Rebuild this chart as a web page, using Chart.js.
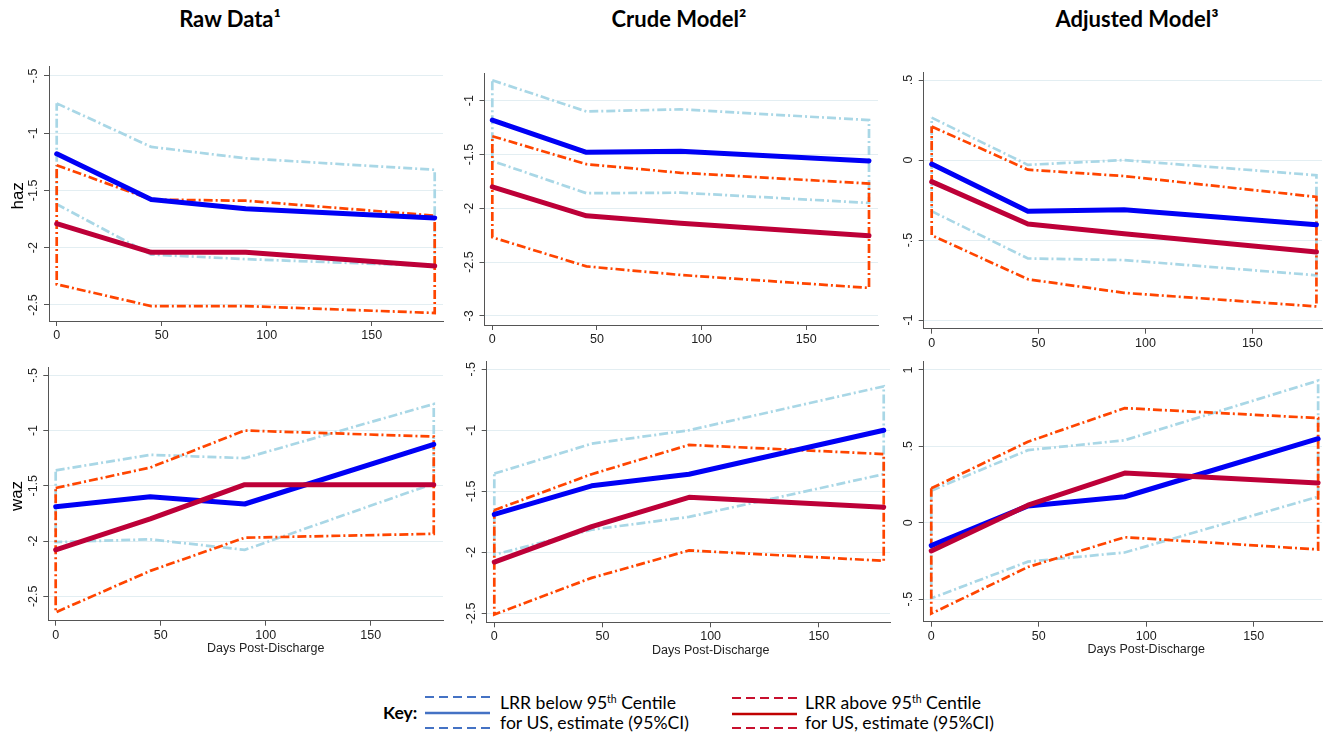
<!DOCTYPE html>
<html>
<head>
<meta charset="utf-8">
<script src="https://cdn.jsdelivr.net/npm/chart.js@4.4.1/dist/chart.umd.min.js"></script>
<style>
  body { margin: 0; background: #fff; }
  #page { position: relative; width: 1331px; height: 738px; overflow: hidden; font-family: Lato, "Open Sans", sans-serif; color: #000; }
  canvas { position: absolute; }
  .title { position: absolute; top: 5px; font-weight: 700; font-size: 22px; transform: translateX(-50%); white-space: nowrap; }
  .key { position: absolute; font-size: 17.6px; white-space: nowrap; line-height: 20px; }
  .key sup { font-size: 10.5px; vertical-align: 6px; line-height: 0; }
  svg { position: absolute; }
</style>
</head>
<body>
<div id="page">
  <div class="title" style="left:230px">Raw Data¹</div>
  <div class="title" style="left:679px">Crude Model²</div>
  <div class="title" style="left:1137px">Adjusted Model³</div>

  <div class="key" style="left:383px;top:703px;font-weight:700">Key:</div>
  <svg style="left:424px;top:690px" width="70" height="45">
    <line x1="1" y1="7" x2="66" y2="7" stroke="#4472c4" stroke-width="1.8" stroke-dasharray="9 5"/>
    <line x1="1" y1="23" x2="66" y2="23" stroke="#4472c4" stroke-width="2.6"/>
    <line x1="1" y1="38" x2="66" y2="38" stroke="#4472c4" stroke-width="1.8" stroke-dasharray="9 5"/>
  </svg>
  <div class="key" style="left:500px;top:693px">LRR below 95<sup>th</sup> Centile</div>
  <div class="key" style="left:500px;top:713px">for US, estimate (95%CI)</div>
  <svg style="left:731px;top:690px" width="70" height="45">
    <line x1="1" y1="8" x2="66" y2="8" stroke="#c8102e" stroke-width="1.8" stroke-dasharray="9 5"/>
    <line x1="1" y1="24" x2="66" y2="24" stroke="#c00000" stroke-width="2.6"/>
    <line x1="1" y1="38" x2="66" y2="38" stroke="#c8102e" stroke-width="1.8" stroke-dasharray="9 5"/>
  </svg>
  <div class="key" style="left:805px;top:693px">LRR above 95<sup>th</sup> Centile</div>
  <div class="key" style="left:805px;top:713px">for US, estimate (95%CI)</div>
</div>

<script>
// days post-discharge at which each estimate was taken
const days = [0, 45, 90, 180];
const xTicks = [0, 50, 100, 150];

// haz - raw data
const hazRawBelow   = [-1.18, -1.58, -1.66, -1.74];
const hazRawBelowLo = [-1.62, -2.06, -2.10, -2.16];
const hazRawBelowHi = [-0.74, -1.12, -1.22, -1.32];
const hazRawAbove   = [-1.79, -2.04, -2.04, -2.16];
const hazRawAboveLo = [-2.32, -2.51, -2.51, -2.57];
const hazRawAboveHi = [-1.28, -1.58, -1.59, -1.72];

// haz - crude model
const hazCrudeBelow   = [-1.18, -1.48, -1.47, -1.56];
const hazCrudeBelowLo = [-1.56, -1.86, -1.855, -1.95];
const hazCrudeBelowHi = [-0.81, -1.10, -1.08, -1.18];
const hazCrudeAbove   = [-1.80, -2.07, -2.14, -2.255];
const hazCrudeAboveLo = [-2.27, -2.54, -2.62, -2.74];
const hazCrudeAboveHi = [-1.33, -1.59, -1.67, -1.77];

// haz - adjusted model
const hazAdjBelow   = [-0.025, -0.32, -0.31, -0.405];
const hazAdjBelowLo = [-0.32, -0.615, -0.625, -0.72];
const hazAdjBelowHi = [0.265, -0.03, 0.0, -0.095];
const hazAdjAbove   = [-0.135, -0.40, -0.46, -0.575];
const hazAdjAboveLo = [-0.47, -0.745, -0.83, -0.915];
const hazAdjAboveHi = [0.21, -0.06, -0.10, -0.23];

// waz - raw data
const wazRawBelow   = [-1.69, -1.60, -1.665, -1.125];
const wazRawBelowLo = [-2.01, -1.985, -2.08, -1.48];
const wazRawBelowHi = [-1.36, -1.22, -1.25, -0.76];
const wazRawAbove   = [-2.08, -1.80, -1.49, -1.49];
const wazRawAboveLo = [-2.645, -2.27, -1.97, -1.935];
const wazRawAboveHi = [-1.52, -1.335, -1.0, -1.055];

// waz - crude model
const wazCrudeBelow   = [-1.69, -1.455, -1.36, -1.0];
const wazCrudeBelowLo = [-2.02, -1.815, -1.71, -1.36];
const wazCrudeBelowHi = [-1.355, -1.11, -1.0, -0.64];
const wazCrudeAbove   = [-2.08, -1.79, -1.55, -1.63];
const wazCrudeAboveLo = [-2.51, -2.21, -1.985, -2.07];
const wazCrudeAboveHi = [-1.655, -1.36, -1.12, -1.195];

// waz - adjusted model
const wazAdjBelow   = [-0.15, 0.11, 0.17, 0.55];
const wazAdjBelowLo = [-0.495, -0.255, -0.195, 0.17];
const wazAdjBelowHi = [0.21, 0.475, 0.54, 0.93];
const wazAdjAbove   = [-0.185, 0.115, 0.325, 0.26];
const wazAdjAboveLo = [-0.595, -0.29, -0.095, -0.175];
const wazAdjAboveHi = [0.225, 0.53, 0.75, 0.685];

// y tick labels per panel
const hazRawTicks   = [-0.5, -1, -1.5, -2, -2.5];
const hazCrudeTicks = [-1, -1.5, -2, -2.5, -3];
const hazAdjTicks   = [0.5, 0, -0.5, -1];
const wazRawTicks   = [-0.5, -1, -1.5, -2, -2.5];
const wazCrudeTicks = [-0.5, -1, -1.5, -2, -2.5];
const wazAdjTicks   = [1, 0.5, 0, -0.5];

const colors = {
  below: '#0000f5',
  above: '#bd0038',
  belowCI: '#a9d7e6',
  aboveCI: '#ff4500',
  grid: '#e3eef2',
  axis: '#555555',
  text: '#222222'
};

// stata style: "-.5", ".5"
const fmt = v => String(v).replace('0.', '.');

// estimate line
function line(vals) {
  return days.map((d, i) => ({ x: d, y: vals[i] }));
}

// CI as closed outline: upper bound out, lower bound back
function band(lo, hi) {
  const up = days.map((d, i) => ({ x: d, y: hi[i] }));
  const down = days.map((d, i) => ({ x: d, y: lo[i] })).reverse();
  return up.concat(down, [up[0]]);
}

const panelText = {
  id: 'panelText',
  afterDraw(chart, args, o) {
    const { ctx, chartArea: a } = chart;
    const ys = chart.scales.y, xs = chart.scales.x;
    ctx.save();
    ctx.fillStyle = colors.text;
    ctx.textAlign = 'center';
    ctx.textBaseline = 'middle';
    ctx.font = '12.5px "Liberation Sans", Arial, sans-serif';
    ys.ticks.forEach(t => {
      ctx.save();
      ctx.translate(a.left - 15, ys.getPixelForValue(t.value));
      ctx.rotate(-Math.PI / 2);
      ctx.fillText(fmt(t.value), 0, 0);
      ctx.restore();
    });
    if (o.yTitle) {
      ctx.save();
      ctx.font = '17px "Liberation Sans", Arial, sans-serif';
      ctx.fillStyle = '#000';
      ctx.translate(a.left - 31, (a.top + a.bottom) / 2 + 2);
      ctx.rotate(-Math.PI / 2);
      ctx.fillText(o.yTitle, 0, 0);
      ctx.restore();
    }
    if (o.xTitle) {
      ctx.font = '12.5px "Liberation Sans", Arial, sans-serif';
      ctx.fillText(o.xTitle, xs.getPixelForValue(100), a.bottom + 28);
    }
    ctx.restore();
  }
};

function makePanel(box, xr, yr, yTicks, s, yTitle, xTitle) {
  const cl = Math.round(box.l - 49), ct = Math.round(box.t - 12);
  const cr = Math.round(box.r + 8), cb = Math.round(box.b + 42);
  const cv = document.createElement('canvas');
  cv.width = cr - cl; cv.height = cb - ct;
  cv.style.left = cl + 'px'; cv.style.top = ct + 'px';
  cv.style.width = (cr - cl) + 'px'; cv.style.height = (cb - ct) + 'px';
  document.getElementById('page').appendChild(cv);

  const est = { pointRadius: 0, borderWidth: 5, borderCapStyle: 'round', borderJoinStyle: 'round', fill: false, tension: 0 };
  const ci = { pointRadius: 0, borderWidth: 2.7, borderDash: [9, 3, 2, 3], fill: false, tension: 0 };

  new Chart(cv, {
    type: 'line',
    data: {
      datasets: [
        { ...est, data: line(s.above), borderColor: colors.above },
        { ...est, data: line(s.below), borderColor: colors.below },
        { ...ci, data: band(s.aboveLo, s.aboveHi), borderColor: colors.aboveCI },
        { ...ci, data: band(s.belowLo, s.belowHi), borderColor: colors.belowCI }
      ]
    },
    options: {
      responsive: false,
      animation: false,
      events: [],
      layout: { padding: { top: box.t - ct, right: cr - box.r, left: 0, bottom: 0 } },
      scales: {
        x: {
          type: 'linear', min: xr[0], max: xr[1],
          afterBuildTicks: sc => { sc.ticks = xTicks.map(v => ({ value: v })); },
          afterFit: sc => { sc.height = cb - box.b; },
          grid: { drawOnChartArea: false, drawTicks: true, tickLength: 5, tickColor: colors.axis },
          border: { display: true, color: colors.axis, width: 1 },
          ticks: { color: colors.text, padding: 2, font: { size: 12.5, family: '"Liberation Sans", Arial, sans-serif' } }
        },
        y: {
          type: 'linear', min: yr[0], max: yr[1],
          afterBuildTicks: sc => { sc.ticks = yTicks.map(v => ({ value: v })); },
          afterFit: sc => { sc.width = box.l - cl; },
          grid: { color: colors.grid, lineWidth: 1, drawTicks: true, tickLength: 5, tickColor: colors.axis },
          border: { display: true, color: colors.axis, width: 1 },
          ticks: { display: false }
        }
      },
      plugins: {
        legend: { display: false },
        tooltip: { enabled: false },
        panelText: { yTitle: yTitle, xTitle: xTitle }
      }
    },
    plugins: [panelText]
  });
}

makePanel({ l: 49, t: 66.7, r: 443, b: 321 }, [-3.67, 183.95], [-2.64, -0.42], hazRawTicks,
  { below: hazRawBelow, belowLo: hazRawBelowLo, belowHi: hazRawBelowHi, above: hazRawAbove, aboveLo: hazRawAboveLo, aboveHi: hazRawAboveHi },
  'haz', null);
makePanel({ l: 484.5, t: 73.3, r: 878, b: 325 }, [-3.73, 184.3], [-3.085, -0.745], hazCrudeTicks,
  { below: hazCrudeBelow, belowLo: hazCrudeBelowLo, belowHi: hazCrudeBelowHi, above: hazCrudeAbove, aboveLo: hazCrudeAboveLo, aboveHi: hazCrudeAboveHi },
  null, null);
makePanel({ l: 923.7, t: 72.7, r: 1322, b: 328.7 }, [-3.74, 182.6], [-1.054, 0.546], hazAdjTicks,
  { below: hazAdjBelow, belowLo: hazAdjBelowLo, belowHi: hazAdjBelowHi, above: hazAdjAbove, aboveLo: hazAdjAboveLo, aboveHi: hazAdjAboveHi },
  null, null);
makePanel({ l: 48.3, t: 367.3, r: 443, b: 620.7 }, [-3.52, 184.4], [-2.721, -0.428], wazRawTicks,
  { below: wazRawBelow, belowLo: wazRawBelowLo, belowHi: wazRawBelowHi, above: wazRawAbove, aboveLo: wazRawAboveLo, aboveHi: wazRawAboveHi },
  'waz', 'Days Post-Discharge');
makePanel({ l: 486.7, t: 361.7, r: 890, b: 622.3 }, [-3.51, 182.9], [-2.574, -0.438], wazCrudeTicks,
  { below: wazCrudeBelow, belowLo: wazCrudeBelowLo, belowHi: wazCrudeBelowHi, above: wazCrudeAbove, aboveLo: wazCrudeAboveLo, aboveHi: wazCrudeAboveHi },
  null, 'Days Post-Discharge');
makePanel({ l: 923.7, t: 361.7, r: 1322, b: 621.7 }, [-3.52, 181.8], [-0.648, 1.054], wazAdjTicks,
  { below: wazAdjBelow, belowLo: wazAdjBelowLo, belowHi: wazAdjBelowHi, above: wazAdjAbove, aboveLo: wazAdjAboveLo, aboveHi: wazAdjAboveHi },
  null, 'Days Post-Discharge');
</script>
</body>
</html>
